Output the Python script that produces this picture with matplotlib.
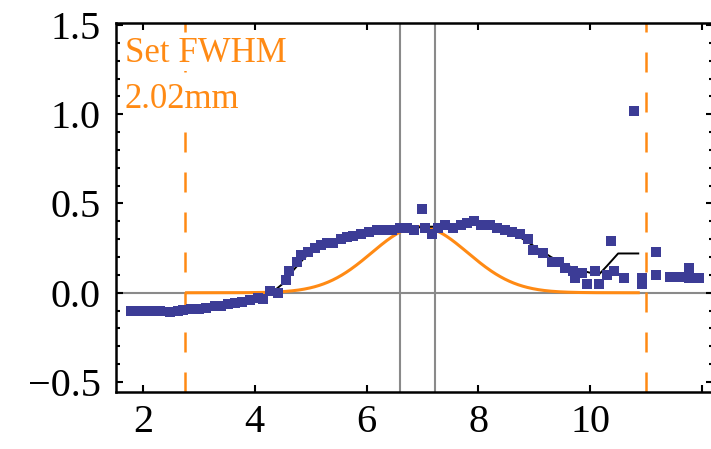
import matplotlib
matplotlib.use("Agg")
import matplotlib.pyplot as plt
import numpy as np
from matplotlib.ticker import MultipleLocator, FixedLocator, FuncFormatter

# Measured profile (position in mm, signal)
meas_x = [1.78, 1.90, 2.02, 2.20, 2.30, 2.48, 2.62, 2.72, 2.85, 3.00,
          3.12, 3.28, 3.40, 3.52, 3.65, 3.78, 3.92, 4.05, 4.15, 4.28,
          4.42, 4.55, 4.62, 4.75, 4.82, 4.95, 5.08, 5.18, 5.30, 5.40,
          5.55, 5.65, 5.76, 5.90, 6.05, 6.18, 6.32, 6.45, 6.60, 6.72,
          6.85, 7.00, 7.05, 7.17, 7.28, 7.40, 7.55, 7.68, 7.80, 7.93,
          8.05, 8.20, 8.33, 8.48, 8.60, 8.75, 8.88, 8.98, 9.15, 9.32,
          9.45, 9.55, 9.70, 9.72, 9.85, 9.95, 10.08, 10.15, 10.30, 10.38,
          10.42, 10.60, 10.79, 10.92, 10.92, 11.17, 11.18, 11.42, 11.60, 11.76,
          11.76, 11.95]
meas_y = [-0.10, -0.10, -0.10, -0.10, -0.10, -0.11, -0.10, -0.095, -0.09, -0.09,
          -0.085, -0.075, -0.075, -0.065, -0.06, -0.05, -0.04, -0.03, -0.035, 0.01,
          0.00, 0.07, 0.12, 0.17, 0.21, 0.23, 0.25, 0.27, 0.28, 0.28,
          0.30, 0.31, 0.32, 0.33, 0.34, 0.35, 0.35, 0.35, 0.36, 0.36,
          0.35, 0.47, 0.36, 0.33, 0.36, 0.38, 0.36, 0.38, 0.39, 0.40,
          0.38, 0.38, 0.36, 0.35, 0.34, 0.33, 0.30, 0.24, 0.22, 0.17,
          0.17, 0.14, 0.12, 0.08, 0.11, 0.05, 0.12, 0.05, 0.10, 0.29,
          0.12, 0.08, 1.02, 0.08, 0.05, 0.10, 0.23, 0.09, 0.09, 0.14,
          0.08, 0.08]

# Smoothed trend through the measurement
trend_x = [1.8, 2.5, 3.0, 3.5, 4.0, 4.3, 4.5, 4.7, 4.9, 5.2, 5.5, 5.8, 6.2,
           6.6, 7.1, 7.5, 7.9, 8.3, 8.7, 9.0, 9.3, 9.6, 9.9, 10.15, 10.3,
           10.5, 10.86]
trend_y = [-0.10, -0.10, -0.09, -0.07, -0.04, 0.00, 0.05, 0.13, 0.20, 0.26,
           0.29, 0.32, 0.34, 0.36, 0.37, 0.37, 0.39, 0.37, 0.32, 0.26, 0.20,
           0.15, 0.12, 0.10, 0.15, 0.22, 0.22]

# Gaussian model with the set FWHM
fwhm = 2.02
model_center = 6.95
model_height = 0.37
model_span = (2.78, 10.86)

# Markers
window_edges = [2.75, 11.0]
center_band = [6.6, 7.22]

x_ticks = [2, 4, 6, 8, 10, 12]
x_labelled = [2, 4, 6, 8, 10]

blue = "#3c3c96"
orange = "#ff8a14"
grey = "#8a8a8a"
serif = ["Liberation Serif", "DejaVu Serif"]

W, H = 711, 449
fig = plt.figure(figsize=(W / 100, H / 100), dpi=100)
left_px, right_px, top_px, bottom_px = 116, 713, 23, 392
ax = fig.add_axes([left_px / W, 1 - bottom_px / H,
                   (right_px - left_px) / W, (bottom_px - top_px) / H])

ax.set_xlim(1.517, 12.197)
ax.set_ylim(-0.556, 1.511)

ax.axhline(0, color=grey, lw=1.5, zorder=1)
for xv in center_band:
    ax.axvline(xv, color=grey, lw=1.5, zorder=1)
for xv in window_edges:
    ax.axvline(xv, color=orange, lw=1.8, ls=(0, (8, 8)), zorder=2)

sigma = fwhm / (2 * np.sqrt(2 * np.log(2)))
mx = np.linspace(model_span[0], model_span[1], 400)
my = model_height * np.exp(-(mx - model_center) ** 2 / (2 * sigma ** 2))
ax.plot(mx, my, color=orange, lw=2.2, zorder=3)

ax.plot(trend_x, trend_y, color="black", lw=1.4, zorder=4)
ax.plot(meas_x, meas_y, ls="none", marker="s", ms=6.6, mew=0,
        color=blue, zorder=5)

# Axes frame and ticks
for side in ["left", "bottom", "top", "right"]:
    ax.spines[side].set_linewidth(1.8)
    ax.spines[side].set_color("black")

ax.xaxis.set_major_locator(FixedLocator(x_ticks))
ax.yaxis.set_major_locator(MultipleLocator(0.5))
ax.yaxis.set_minor_locator(MultipleLocator(0.1))
ax.yaxis.set_major_formatter(
    FuncFormatter(lambda v, p: f"{v:.1f}".replace("-", "\u2212")))
ax.xaxis.set_major_formatter(
    FuncFormatter(lambda v, p: f"{v:g}" if v in x_labelled else ""))
ax.tick_params(which="both", direction="in", top=True, right=True,
               width=1.5, color="black")
ax.tick_params(which="major", length=5)
ax.tick_params(which="minor", length=3)
ax.tick_params(axis="y", which="major", pad=11)
ax.tick_params(axis="x", which="major", pad=9)
for lab in ax.get_xticklabels() + ax.get_yticklabels():
    lab.set_fontfamily(serif)
    lab.set_fontsize(29)

fig.text(125 / W, 1 - 62 / H, "Set FWHM", color=orange, fontsize=25,
         family=serif, va="baseline", ha="left",
         bbox=dict(facecolor="white", edgecolor="none", pad=1))
fig.text(125 / W, 1 - 108 / H, "2.02mm", color=orange, fontsize=25,
         family=serif, va="baseline", ha="left",
         bbox=dict(facecolor="white", edgecolor="none", pad=1))

fig.savefig("out.png", dpi=100)
